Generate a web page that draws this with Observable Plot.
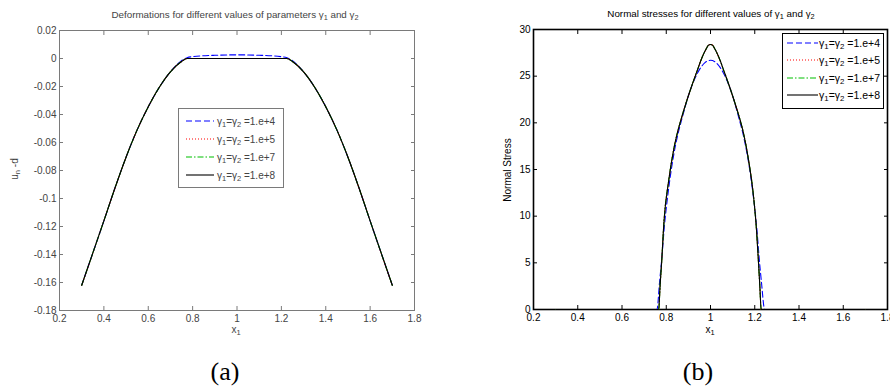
<!DOCTYPE html>
<html><head><meta charset="utf-8">
<script src="https://cdn.jsdelivr.net/npm/d3@7"></script>
<script src="https://cdn.jsdelivr.net/npm/@observablehq/plot@0.6"></script>
<style>
html,body{margin:0;padding:0;background:#fff;width:890px;height:389px;overflow:hidden;}
#root{position:relative;width:890px;height:389px;font-family:"Liberation Sans",Arial,sans-serif;}
.abs{position:absolute;white-space:nowrap;line-height:1;transform:translate(-50%,-50%);}
.rot{transform:translate(-50%,-50%) rotate(-90deg);}
.cap{font-family:"Liberation Serif","Times New Roman",serif;font-size:26px;color:#000;}
sub{font-size:75%;vertical-align:-0.3em;line-height:0;}
.legend{position:absolute;background:#fff;box-sizing:border-box;}
.row{position:absolute;left:0;height:12px;display:flex;align-items:center;white-space:nowrap;}
.row svg{flex:none;}
</style></head><body><div id="root"></div>
<script>
// ---------- data ----------
const xTicks = [0.2, 0.4, 0.6, 0.8, 1, 1.2, 1.4, 1.6, 1.8];
const yTicksDef = [-0.18, -0.16, -0.14, -0.12, -0.1, -0.08, -0.06, -0.04, -0.02, 0, 0.02];
const yTicksStress = [0, 5, 10, 15, 20, 25, 30];

const seriesNames = ["1.e+4", "1.e+5", "1.e+7", "1.e+8"];
const seriesColors = ["#0000ff", "#ff0000", "#00c000", "#000000"];
const seriesDash = ["6,3", "1,2", "6,2,1.5,2", null];

// (a) deformation u_n - d
const xDef = [0.3, 0.35, 0.4, 0.45, 0.5, 0.55, 0.6, 0.65, 0.7, 0.75, 0.775, 0.8, 0.9, 1.0, 1.1, 1.2, 1.225, 1.25, 1.3, 1.35, 1.4, 1.45, 1.5, 1.55, 1.6, 1.65, 1.7];
const def4 = [-0.162, -0.139, -0.116, -0.0925, -0.0705, -0.051, -0.0345, -0.0205, -0.0095, -0.0016, 0.0006, 0.0013, 0.0023, 0.0026, 0.0023, 0.0013, 0.0006, -0.0016, -0.0095, -0.0205, -0.0345, -0.051, -0.0705, -0.0925, -0.116, -0.139, -0.162];
const def5 = [-0.162, -0.139, -0.116, -0.0925, -0.0705, -0.051, -0.0345, -0.0205, -0.0095, -0.0022, 0, 0, 0, 0, 0, 0, 0, -0.0022, -0.0095, -0.0205, -0.0345, -0.051, -0.0705, -0.0925, -0.116, -0.139, -0.162];
const def7 = [-0.162, -0.139, -0.116, -0.0925, -0.0705, -0.051, -0.0345, -0.0205, -0.0095, -0.0022, 0, 0, 0, 0, 0, 0, 0, -0.0022, -0.0095, -0.0205, -0.0345, -0.051, -0.0705, -0.0925, -0.116, -0.139, -0.162];
const def8 = [-0.162, -0.139, -0.116, -0.0925, -0.0705, -0.051, -0.0345, -0.0205, -0.0095, -0.0022, 0, 0, 0, 0, 0, 0, 0, -0.0022, -0.0095, -0.0205, -0.0345, -0.051, -0.0705, -0.0925, -0.116, -0.139, -0.162];

// (b) normal stress
const xS4 = [0.3, 0.758, 0.77, 0.78, 0.79, 0.81, 0.834, 0.85, 0.875, 0.9, 0.925, 0.95, 0.975, 1.0, 1.025, 1.05, 1.075, 1.1, 1.125, 1.15, 1.166, 1.19, 1.21, 1.22, 1.23, 1.245, 1.7];
const s4  = [0, 0, 3, 5.5, 8.5, 12.8, 16.6, 18.5, 20.8, 22.9, 24.5, 25.7, 26.45, 26.7, 26.45, 25.7, 24.5, 22.9, 20.8, 18.5, 16.6, 12.8, 8.5, 5.5, 3, 0, 0];
const xS8 = [0.3, 0.766, 0.772, 0.779, 0.79, 0.811, 0.835, 0.85, 0.865, 0.88, 0.91, 0.94, 0.96, 0.98, 0.99, 1.0, 1.01, 1.02, 1.04, 1.06, 1.09, 1.12, 1.135, 1.149, 1.17, 1.195, 1.208, 1.217, 1.223, 1.229, 1.7];
const s5  = [0, 0, 2.5, 5, 9.5, 13.8, 17.3, 18.9, 20.2, 21.4, 23.6, 25.6, 26.9, 27.9, 28.3, 28.4, 28.3, 27.9, 26.9, 25.6, 23.6, 21.4, 20.2, 18.9, 16.3, 12.0, 8.5, 5, 2.5, 0, 0];
const s7  = [0, 0, 2.5, 5, 9.5, 13.8, 17.3, 18.9, 20.2, 21.4, 23.6, 25.6, 26.9, 27.9, 28.3, 28.4, 28.3, 27.9, 26.9, 25.6, 23.6, 21.4, 20.2, 18.9, 16.3, 12.0, 8.5, 5, 2.5, 0, 0];
const s8  = [0, 0, 2.5, 5, 9.5, 13.8, 17.3, 18.9, 20.2, 21.4, 23.6, 25.6, 26.9, 27.9, 28.3, 28.4, 28.3, 27.9, 26.9, 25.6, 23.6, 21.4, 20.2, 18.9, 16.3, 12.0, 8.5, 5, 2.5, 0, 0];

// ---------- build ----------
const root = document.getElementById("root");
const zip = (xs, ys) => xs.map((x, i) => ({x, y: ys[i]}));

function axes(yt, color, textColor) {
  const fx = d => String(d);
  const common = {color: textColor, label: null};
  return [
    Plot.axisX({...common, ticks: xTicks, anchor: "bottom", tickSize: -4, tickPadding: 8, tickFormat: fx, stroke: color}),
    Plot.axisX({...common, ticks: xTicks, anchor: "top", tickSize: -4, tickFormat: () => "", stroke: color}),
    Plot.axisY({...common, ticks: yt, anchor: "left", tickSize: -4, tickPadding: 7, tickFormat: fx, stroke: color}),
    Plot.axisY({...common, ticks: yt, anchor: "right", tickSize: -4, tickFormat: () => "", stroke: color})
  ];
}

function lines(sets, sw) {
  return sets.map((d, i) => Plot.line(d, {x: "x", y: "y", stroke: seriesColors[i], strokeWidth: sw,
    strokeDasharray: seriesDash[i], curve: "monotone-x"}));
}

const left = Plot.plot({
  width: 445, height: 340, marginLeft: 59, marginRight: 31, marginTop: 30, marginBottom: 30,
  x: {domain: [0.2, 1.8]}, y: {domain: [-0.18, 0.02]},
  style: {fontFamily: "Liberation Sans, Arial, sans-serif", fontSize: "10px", background: "transparent", overflow: "visible"},
  marks: [
    Plot.frame({stroke: "#7a7a7a"}),
    ...axes(yTicksDef, "#7a7a7a", "#444"),
    ...lines([zip(xDef, def4), zip(xDef, def5), zip(xDef, def7), zip(xDef, def8)], 1.1)
  ]
});
const right = Plot.plot({
  width: 445, height: 340, marginLeft: 88, marginRight: 3, marginTop: 29, marginBottom: 31,
  x: {domain: [0.2, 1.8]}, y: {domain: [0, 30]},
  style: {fontFamily: "Liberation Sans, Arial, sans-serif", fontSize: "10px", background: "transparent", overflow: "visible"},
  marks: [
    Plot.frame({stroke: "#000", strokeWidth: 1.6}),
    ...axes(yTicksStress, "#000", "#000"),
    ...lines([zip(xS4, s4), zip(xS8, s5), zip(xS8, s7), zip(xS8, s8)], 1.1)
  ]
});

function place(el, x, y) {
  const d = document.createElement("div");
  d.style.cssText = `position:absolute;left:${x}px;top:${y}px;width:445px;height:340px;`;
  el.style.maxWidth = "none";
  d.appendChild(el); root.appendChild(d);
}
place(left, 0, 0);
place(right, 445, 0);

function label(html, x, y, cls, style) {
  const d = document.createElement("div");
  d.className = "abs " + (cls || "");
  d.style.left = x + "px"; d.style.top = y + "px";
  if (style) d.style.cssText += style;
  d.innerHTML = html;
  root.appendChild(d);
}
label("Deformations for different values of parameters γ<sub>1</sub> and γ<sub>2</sub>", 235, 15, "", "font-size:9.8px;color:#444;");
label("Normal stresses for different values of γ<sub>1</sub> and γ<sub>2</sub>", 711, 14, "", "font-size:9.8px;color:#000;");
label("x<sub>1</sub>", 236, 330, "", "font-size:10px;color:#444;");
label("x<sub>1</sub>", 710, 330, "", "font-size:10px;color:#000;");
label("u<sub>n</sub> -d", 15, 169, "rot", "font-size:10px;color:#444;");
label("Normal Stress", 508, 170, "rot", "font-size:10px;color:#000;");
label("(a)", 225, 372, "cap");
label("(b)", 698, 372, "cap");

function legend(x, y, w, h, border, rows0, step, sx0, sw, tx, color, fs) {
  const box = document.createElement("div");
  box.className = "legend";
  box.style.cssText += `left:${x}px;top:${y}px;width:${w}px;height:${h}px;border:${border};`;
  seriesNames.forEach((n, i) => {
    const r = document.createElement("div");
    r.className = "row";
    r.style.top = (rows0 + i * step - 6) + "px";
    r.style.left = sx0 + "px";
    const dash = seriesDash[i] ? `stroke-dasharray="${seriesDash[i]}"` : "";
    r.innerHTML = `<svg width="${sw}" height="12"><line x1="0" x2="${sw}" y1="6" y2="6" stroke="${seriesColors[i]}" stroke-width="1.1" ${dash}/></svg>` +
      `<span style="margin-left:${tx}px;font-size:${fs}px;color:${color}">γ<sub>1</sub>=γ<sub>2</sub> =${n}</span>`;
    box.appendChild(r);
  });
  root.appendChild(box);
}
legend(178, 108, 106, 80, "1px solid #7a7a7a", 12, 18, 7, 28, 3, "#444", 10);
legend(782, 33, 102, 76, "1.6px solid #000", 9, 17.3, 4, 31, 1, "#000", 10.5);
</script>
</body></html>
